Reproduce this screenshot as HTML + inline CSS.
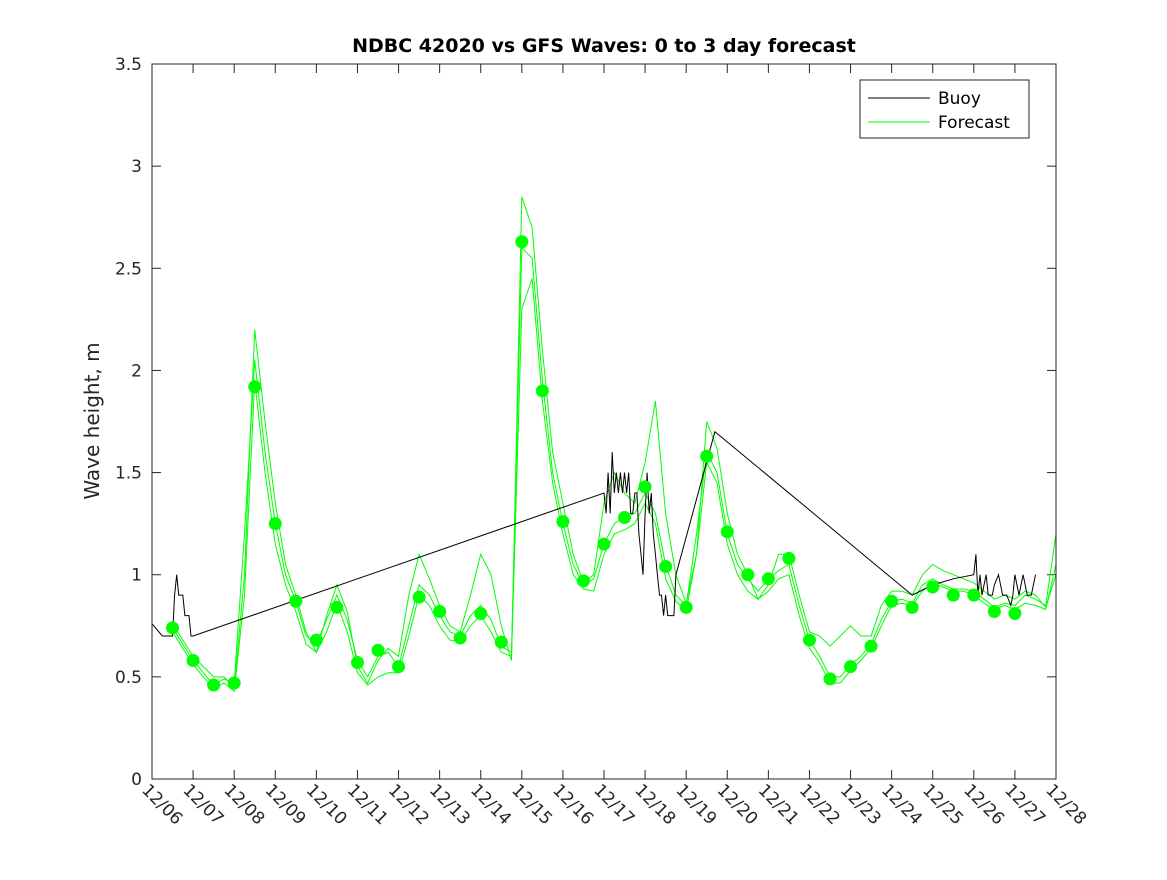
<!DOCTYPE html>
<html><head><meta charset="utf-8"><style>
body{margin:0;background:#fff;}
svg text{font-family:"DejaVu Sans","Liberation Sans",sans-serif;}
</style></head><body>
<svg id="chart" width="1167" height="875" xmlns="http://www.w3.org/2000/svg">
<rect width="1167" height="875" fill="#fff"/>
<text x="604" y="52" text-anchor="middle" font-size="19" font-weight="bold" fill="#000">NDBC 42020 vs GFS Waves: 0 to 3 day forecast</text>
<text transform="translate(99,421) rotate(-90)" text-anchor="middle" font-size="20" fill="#262626">Wave height, m</text>
<g id="grid"></g>
<g id="marks"></g>
<rect x="152" y="64" width="904" height="715" fill="none" stroke="#262626" stroke-width="1"/>
<g>
<rect x="860" y="80" width="169" height="58" fill="#fff" stroke="#262626"/>
<line x1="868" y1="98" x2="930" y2="98" stroke="#000"/>
<text x="938" y="104" font-size="17" fill="#000">Buoy</text>
<line x1="868" y1="122" x2="930" y2="122" stroke="#00ff00"/>
<text x="938" y="128" font-size="17" fill="#000">Forecast</text>
</g>
</svg>
<script>
const xTickLabels=["12/06","12/07","12/08","12/09","12/10","12/11","12/12","12/13","12/14","12/15","12/16","12/17","12/18","12/19","12/20","12/21","12/22","12/23","12/24","12/25","12/26","12/27","12/28"];
const yTicks=[0,0.5,1,1.5,2,2.5,3,3.5];
const forecastStart=0.5, forecastStep=0.25;
const forecastA=[.74,.66,.58,.52,.46,.49,.47,1.2,2.05,1.6,1.25,1.0,.87,.7,.66,.78,.9,.78,.58,.5,.6,.62,.55,.75,.95,.9,.8,.72,.7,.8,.85,.78,.65,.62,2.6,2.55,1.95,1.5,1.25,1.05,.95,.98,1.15,1.25,1.28,1.3,1.4,1.3,1.05,.9,.85,1.2,1.6,1.5,1.2,1.05,.98,.92,.98,1.02,1.05,.85,.68,.6,.5,.5,.56,.6,.66,.78,.87,.88,.86,.95,.98,.95,.93,.93,.92,.88,.84,.86,.85,.9,.88,.85,1.2];
const forecastB=[.76,.68,.6,.55,.5,.5,.45,1.0,2.2,1.75,1.35,1.05,.9,.72,.62,.8,.95,.82,.55,.47,.58,.64,.6,.9,1.1,.98,.85,.75,.72,.9,1.1,1.0,.75,.58,2.85,2.7,2.1,1.6,1.35,1.1,.96,1.0,1.35,1.5,1.4,1.35,1.55,1.85,1.3,1.0,.86,1.1,1.75,1.62,1.3,1.1,1.0,.88,.95,1.1,1.1,.9,.72,.7,.65,.7,.75,.7,.7,.85,.92,.92,.9,1.0,1.05,1.02,1.0,.98,.96,.92,.88,.9,.88,.92,.9,.84,1.0];
const forecastC=[.72,.64,.56,.5,.44,.47,.43,.9,1.95,1.5,1.15,.95,.82,.66,.62,.72,.86,.72,.52,.46,.5,.52,.52,.7,.9,.85,.75,.68,.67,.75,.8,.72,.62,.6,2.3,2.45,1.85,1.45,1.2,1.0,.93,.92,1.1,1.2,1.22,1.25,1.35,1.25,.98,.87,.82,1.1,1.55,1.45,1.15,1.0,.92,.88,.92,.98,1.0,.8,.64,.57,.47,.47,.53,.58,.64,.75,.85,.86,.85,.92,.96,.94,.92,.92,.9,.86,.83,.85,.83,.86,.85,.83,1.05];
const dotDays=[0.5,1,1.5,2,2.5,3,3.5,4,4.5,5,5.5,6,6.5,7,7.5,8,8.5,9,9.5,10,10.5,11,11.5,12,12.5,13,13.5,14,14.5,15,15.5,16,16.5,17,17.5,18,18.5,19,19.5,20,20.5,21];
const dotValues=[.74,.58,.46,.47,1.92,1.25,.87,.68,.84,.57,.63,.55,.89,.82,.69,.81,.67,2.63,1.90,1.26,.97,1.15,1.28,1.43,1.04,.84,1.58,1.21,1.00,.98,1.08,.68,.49,.55,.65,.87,.84,.94,.90,.90,.82,.81];
const buoyDays=[0,0.25,0.5,0.55,0.6,0.65,0.75,0.8,0.9,0.95,1.0,11.0,11.05,11.1,11.15,11.2,11.25,11.3,11.35,11.4,11.45,11.5,11.55,11.6,11.65,11.7,11.75,11.8,11.85,11.9,11.95,12.0,12.05,12.1,12.15,12.2,12.25,12.3,12.35,12.4,12.45,12.5,12.55,12.6,12.7,12.75,13.7,18.5,19.0,19.5,20.0,20.05,20.1,20.15,20.2,20.3,20.35,20.45,20.5,20.6,20.7,20.8,20.9,20.95,21.0,21.1,21.2,21.3,21.4,21.5];
const buoyValues=[.76,.7,.7,.9,1.0,.9,.9,.8,.8,.7,.7,1.4,1.3,1.5,1.3,1.6,1.4,1.5,1.4,1.5,1.4,1.5,1.4,1.5,1.3,1.3,1.4,1.4,1.2,1.1,1.0,1.3,1.5,1.3,1.4,1.2,1.1,1.0,.9,.9,.8,.9,.8,.8,.8,1.0,1.7,.9,.95,.98,1.0,1.1,.9,1.0,.9,1.0,.9,.9,.95,1.0,.9,.9,.85,.9,1.0,.9,1.0,.9,.9,1.0];
const X0=152,X1=1056,Y0=779,Y1=64;
const xs=d=>X0+d*(X1-X0)/22;
const ys=v=>Y0-v*(Y0-Y1)/3.5;
const NS="http://www.w3.org/2000/svg";
const grid=document.getElementById('grid'),marks=document.getElementById('marks');
function mk(tag,attrs,parent){const e=document.createElementNS(NS,tag);for(const k in attrs)e.setAttribute(k,attrs[k]);parent.appendChild(e);return e;}
yTicks.forEach(v=>{
  const y=ys(v);
  const t1=mk('line',{x1:X0,x2:X0+9,y1:y,y2:y,stroke:'#262626'},grid);
  
  
  const t2=mk('line',{x1:X1-9,x2:X1,y1:y,y2:y,stroke:'#262626'},grid);
  
  
  const tx=mk('text',{x:X0-10,y:y+6,'text-anchor':'end','font-size':'17',fill:'#262626'},grid);
  tx.textContent=String(v);
  
  
});
xTickLabels.forEach((lab,i)=>{
  const x=xs(i);
  const t1=mk('line',{x1:x,x2:x,y1:Y0,y2:Y0-9,stroke:'#262626'},grid);
  
  
  const t2=mk('line',{x1:x,x2:x,y1:Y1,y2:Y1+9,stroke:'#262626'},grid);
  
  
  const tx=mk('text',{transform:`translate(${x-11},${Y0+12}) rotate(45)`,'font-size':'17',fill:'#262626'},grid);
  tx.textContent=lab;
  
  
});
[forecastA,forecastB,forecastC].forEach((arr,k)=>{
  const pts=arr.map((v,i)=>xs(forecastStart+i*forecastStep).toFixed(1)+','+ys(v).toFixed(1)).join(' ');
  const p=mk('polyline',{points:pts,fill:'none',stroke:'#00ff00','stroke-width':'1'},marks);
  
  
});
const bp=mk('polyline',{points:buoyDays.map((d,i)=>xs(d).toFixed(1)+','+ys(buoyValues[i]).toFixed(1)).join(' '),fill:'none',stroke:'#000','stroke-width':'1'},marks);


dotDays.forEach((d,i)=>{
  const c=mk('circle',{cx:xs(d),cy:ys(dotValues[i]),r:6.5,fill:'#00ff00'},marks);
  
  
});
</script>
</body></html>
